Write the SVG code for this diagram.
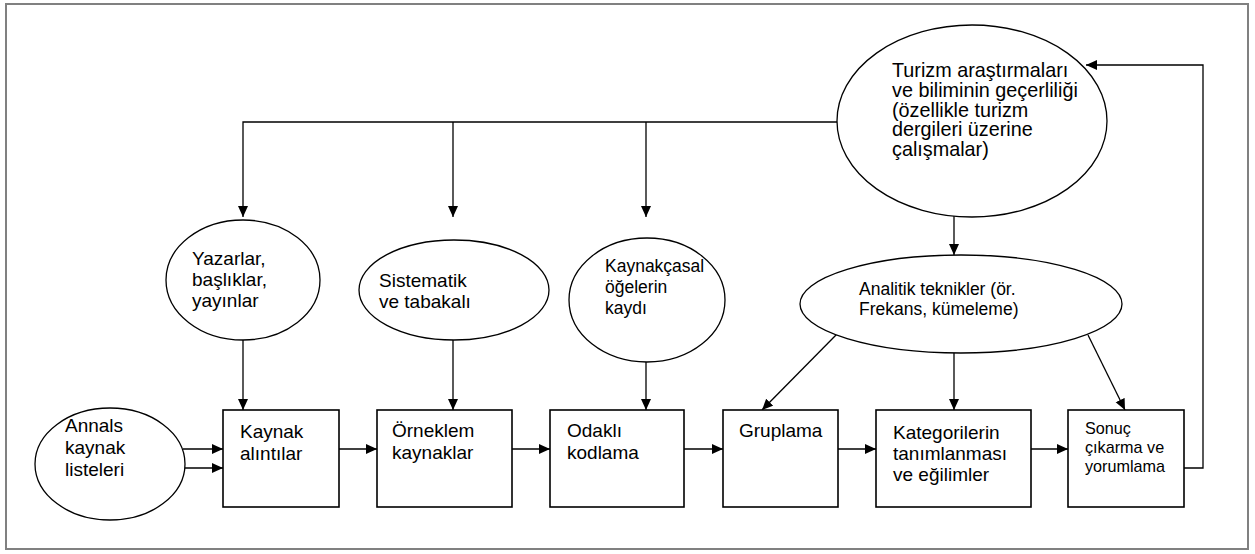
<svg xmlns="http://www.w3.org/2000/svg" width="1255" height="554" viewBox="0 0 1255 554">
<style>
text{font-family:"Liberation Sans",Arial,sans-serif;font-size:19px;fill:#000}
.t{font-size:19.8px}
.s{font-size:17.5px}
.xs{font-size:16.2px}
.box{fill:#fff;stroke:#000;stroke-width:1.6}
.ell{fill:#fff;stroke:#000;stroke-width:1.3}
.c{fill:none;stroke:#000;stroke-width:1.3}
</style>
<defs>
<marker id="a" markerUnits="userSpaceOnUse" markerWidth="12" markerHeight="11" refX="11" refY="5" orient="auto">
<path d="M0,0 L11,5 L0,10 z" fill="#000"/>
</marker>
</defs>
<rect x="6" y="4" width="1242" height="545" fill="#fff" stroke="#808080" stroke-width="2"/>
<g id="connectors">
<path class="c" d="M837,122 H243 V217" marker-end="url(#a)"/>
<path class="c" d="M453,122 V217" marker-end="url(#a)"/>
<path class="c" d="M646,122 V217" marker-end="url(#a)"/>
<path class="c" d="M954,216 V255" marker-end="url(#a)"/>
<path class="c" d="M243,340 V410" marker-end="url(#a)"/>
<path class="c" d="M453,340 V410" marker-end="url(#a)"/>
<path class="c" d="M646,362 V410" marker-end="url(#a)"/>
<path class="c" d="M837,334 L762,410" marker-end="url(#a)"/>
<path class="c" d="M954,353 V410" marker-end="url(#a)"/>
<path class="c" d="M1088,335 L1125,410" marker-end="url(#a)"/>
<path class="c" d="M183,449 H223" marker-end="url(#a)"/>
<path class="c" d="M185,468 H223" marker-end="url(#a)"/>
<path class="c" d="M339,449 H377" marker-end="url(#a)"/>
<path class="c" d="M512,449 H550" marker-end="url(#a)"/>
<path class="c" d="M684,449 H723" marker-end="url(#a)"/>
<path class="c" d="M838,449 H876" marker-end="url(#a)"/>
<path class="c" d="M1031,449 H1068" marker-end="url(#a)"/>
<path class="c" d="M1184,468 H1203 V65 H1086" marker-end="url(#a)" stroke-width="1.6"/>
</g>
<g id="turizm">
<ellipse class="ell" cx="972" cy="121" rx="135" ry="96"/>
<text class="t" x="892" y="77">Turizm araştırmaları</text>
<text class="t" x="892" y="96.5">ve biliminin geçerliliği</text>
<text class="t" x="892" y="116.5">(özellikle turizm</text>
<text class="t" x="892" y="136">dergileri üzerine</text>
<text class="t" x="892" y="156">çalışmalar)</text>
</g>
<g id="yazarlar">
<ellipse class="ell" cx="243" cy="280" rx="77" ry="60"/>
<text x="192" y="265">Yazarlar,</text>
<text x="192" y="286">başlıklar,</text>
<text x="192" y="307">yayınlar</text>
</g>
<g id="sistematik">
<ellipse class="ell" cx="454" cy="290" rx="95" ry="50"/>
<text x="379" y="287">Sistematik</text>
<text x="379" y="308">ve tabakalı</text>
</g>
<g id="kaynakcasal">
<ellipse class="ell" cx="647" cy="300" rx="78" ry="62"/>
<text class="s" x="605" y="272">Kaynakçasal</text>
<text class="s" x="605" y="293">öğelerin</text>
<text class="s" x="605" y="314">kaydı</text>
</g>
<g id="analitik">
<ellipse class="ell" cx="961" cy="304" rx="161" ry="49"/>
<text class="s" x="859" y="295">Analitik teknikler (ör.</text>
<text class="s" x="859" y="315">Frekans, kümeleme)</text>
</g>
<g id="annals">
<ellipse class="ell" cx="110" cy="464" rx="75" ry="56"/>
<text x="65" y="432">Annals</text>
<text x="65" y="454">kaynak</text>
<text x="65" y="476">listeleri</text>
</g>
<g id="kaynak">
<rect class="box" x="223" y="410" width="116" height="97"/>
<text x="240" y="438">Kaynak</text>
<text x="240" y="459.5">alıntılar</text>
</g>
<g id="orneklem">
<rect class="box" x="377" y="410" width="135" height="97"/>
<text x="392" y="437">Örneklem</text>
<text x="392" y="458.5">kaynaklar</text>
</g>
<g id="odakli">
<rect class="box" x="550" y="410" width="134" height="97"/>
<text x="567" y="437">Odaklı</text>
<text x="567" y="458.5">kodlama</text>
</g>
<g id="gruplama">
<rect class="box" x="723" y="410" width="115" height="97"/>
<text x="739" y="437">Gruplama</text>
</g>
<g id="kategoriler">
<rect class="box" x="876" y="410" width="155" height="97"/>
<text x="893" y="438.5">Kategorilerin</text>
<text x="893" y="460">tanımlanması</text>
<text x="893" y="481">ve eğilimler</text>
</g>
<g id="sonuc">
<rect class="box" x="1068" y="410" width="116" height="97"/>
<text class="xs" x="1085" y="434">Sonuç</text>
<text class="xs" x="1085" y="453">çıkarma ve</text>
<text class="xs" x="1085" y="472">yorumlama</text>
</g>
</svg>
